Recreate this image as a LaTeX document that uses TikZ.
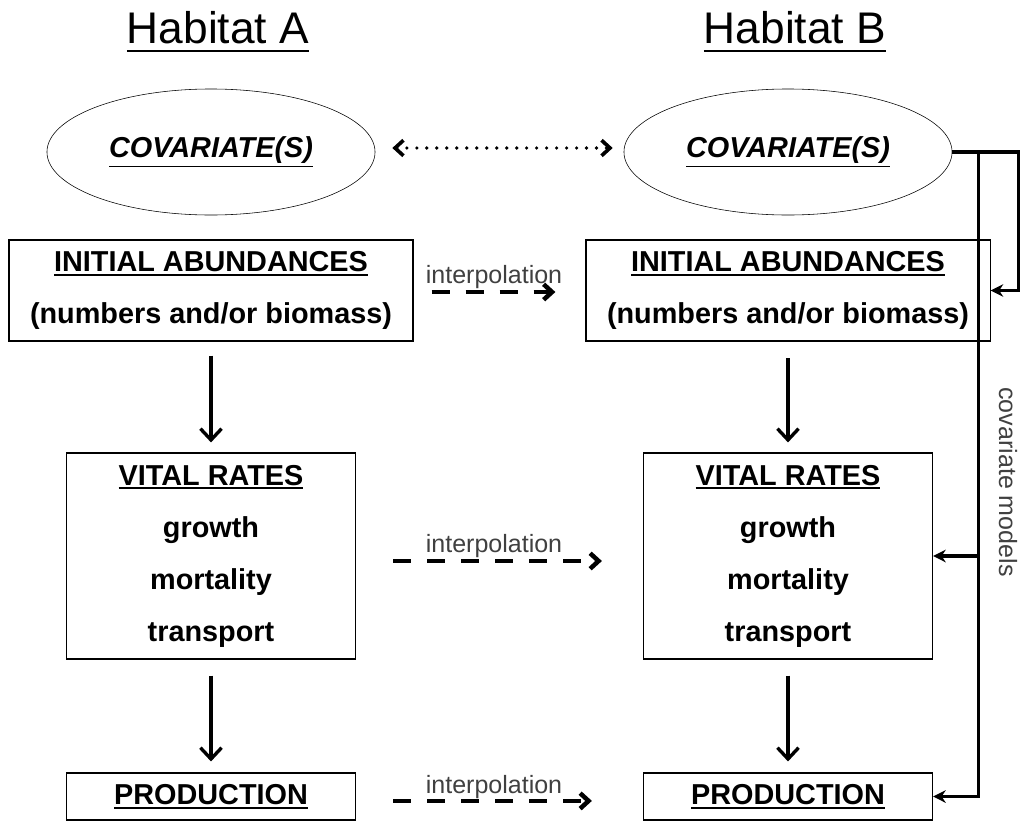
\documentclass[tikz,border=0pt]{standalone}
\usepackage{fontspec}
\setmainfont{Liberation Sans}
\usetikzlibrary{shapes.geometric,arrows,arrows.meta}

\newcommand{\ulbox}[2][1.5pt]{\leavevmode\vtop{\hbox{#2}\kern#1\hrule height 1.3pt}}

\begin{document}
\begin{tikzpicture}[x=0.025cm,y=-0.025cm,>=stealth',semithick]
  \tikzstyle{title}=[anchor=base,font=\fontsize{31.5}{36}\selectfont]
  \tikzstyle{cov}=[draw=black,ellipse,thin,inner sep=0pt,minimum width=8.2cm,minimum height=3.15cm,font=\fontsize{20.5}{24}\selectfont\bfseries\itshape]
  \tikzstyle{box}=[draw=black,thick,align=center,inner sep=0pt,font=\fontsize{20.5}{37}\selectfont\bfseries]
  \tikzstyle{interp}=[anchor=base,text=black!75,font=\fontsize{17.8}{20}\selectfont]
  \tikzstyle{flow}=[-{Straight Barb[length=8pt,width=15pt,line width=2.4pt]},line width=2.4pt]
  \tikzstyle{dasharrow}=[-{Straight Barb[length=6pt,width=11pt]},line width=3.2pt,dash pattern=on 12.8pt off 11.4pt]
  \tikzstyle{dotarrow}=[{Straight Barb[length=6pt,width=11pt]}-{Straight Barb[length=6pt,width=11pt]},line width=2.6pt,line cap=round,dash pattern=on 0pt off 7.1pt]
  \tikzstyle{covline}=[line width=2.6pt]
  \tikzstyle{covarrow}=[covline,-{Stealth[length=9pt,width=9pt]}]

  \useasboundingbox (0,0) rectangle (1024,822);

  % Titles
  \node[title] (habA) at (218,43) {\ulbox[4.5pt]{Habitat A}};
  \node[title] (habB) at (795,43) {\ulbox[4.5pt]{Habitat B}};

  % Covariates
  \node[cov] (covA) at (211,152) {\ulbox{COVARIATE(S)}};
  \node[cov] (covB) at (788,152) {\ulbox{COVARIATE(S)}};

  % Boxes
  \node[box,minimum width=10.1cm,minimum height=2.525cm] (iaA) at (211,290.5) {\ulbox{INITIAL ABUNDANCES}\\(numbers and/or biomass)};
  \node[box,minimum width=10.1cm,minimum height=2.525cm] (iaB) at (788,290.5) {\ulbox{INITIAL ABUNDANCES}\\(numbers and/or biomass)};
  \node[box,minimum width=7.225cm,minimum height=5.15cm] (vrA) at (211,556) {\ulbox{VITAL RATES}\\growth\\mortality\\transport};
  \node[box,minimum width=7.225cm,minimum height=5.15cm] (vrB) at (788,556) {\ulbox{VITAL RATES}\\growth\\mortality\\transport};
  \node[box,minimum width=7.225cm,minimum height=1.175cm] (prodA) at (211,796.5) {\ulbox{PRODUCTION}};
  \node[box,minimum width=7.225cm,minimum height=1.175cm] (prodB) at (788,796.5) {\ulbox{PRODUCTION}};

  % Labels
  \node[interp] (ipTop) at (494,283) {interpolation};
  \node[interp] (ipMid) at (494,552) {interpolation};
  \node[interp] (ipBot) at (494,793) {interpolation};
  \node[interp,anchor=center,rotate=-90] (cmLabel) at (1008,482) {covariate models};

  % Flows within a habitat
  \draw[flow,shorten <=0.35cm,shorten >=0.25cm] (iaA) -- (vrA);
  \draw[flow,shorten <=0.42cm,shorten >=0.25cm] (iaB) -- (vrB);
  \draw[flow,shorten <=0.4cm,shorten >=0.275cm] (vrA) -- (prodA);
  \draw[flow,shorten <=0.4cm,shorten >=0.275cm] (vrB) -- (prodB);

  % Between habitats
  \draw[dotarrow,shorten <=0.425cm,shorten >=0.275cm] ([yshift=0.1cm]covA.east) -- ([yshift=0.1cm]covB.west);
  \draw[dasharrow,shorten <=0.45cm,shorten >=0.75cm] ([yshift=-0.0375cm]iaA.east) -- ([yshift=-0.0375cm]iaB.west);
  \draw[dasharrow,shorten <=0.925cm,shorten >=1.025cm] ([yshift=-0.125cm]vrA.east) -- ([yshift=-0.125cm]vrB.west);
  \draw[dasharrow,shorten <=0.925cm,shorten >=1.275cm] ([yshift=-0.11cm]prodA.east) -- ([yshift=-0.11cm]prodB.west);

  % Covariate models
  \draw[covarrow] (covB.east) -- ++(66,0) |- (iaB.east);
  \draw[covarrow] (covB.east) -- ++(26,0) coordinate (cmTop) |- (prodB.east);
  \draw[covarrow] (cmTop |- vrB.east) -- (vrB.east);

\end{tikzpicture}
\end{document}
